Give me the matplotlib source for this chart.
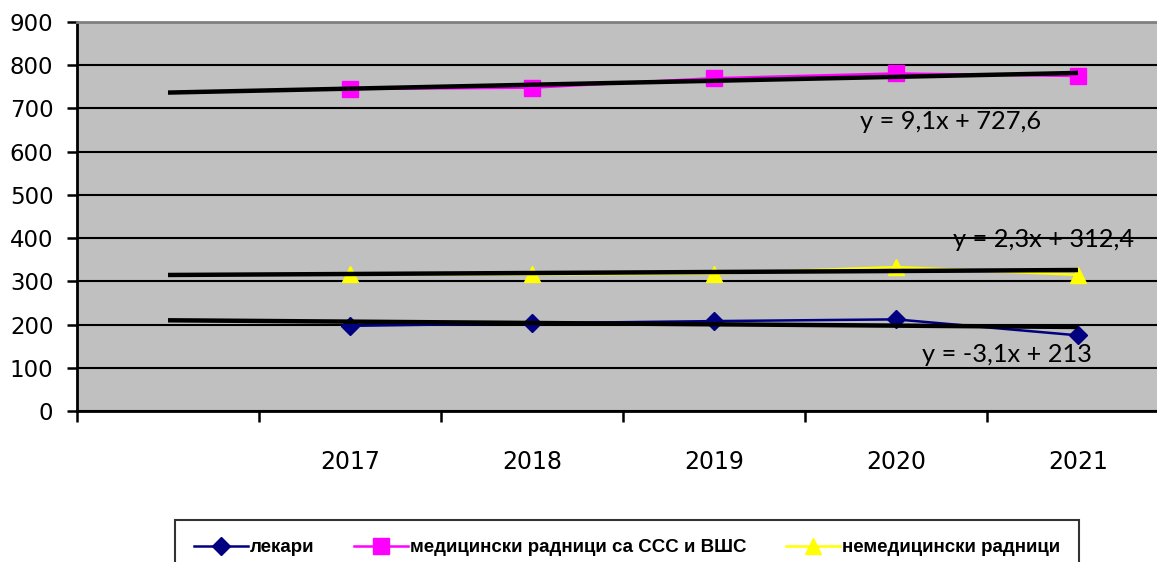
import matplotlib
matplotlib.use("Agg")
import matplotlib.pyplot as plt
import numpy as np
from matplotlib.ticker import FixedLocator, NullFormatter

# ---------------------------- data --------------------------------------------
years = ["", "2017", "2018", "2019", "2020", "2021"]
lekari = [np.nan, 197, 203, 208, 212, 175]
medicinski = [np.nan, 745, 748, 770, 781, 775]
nemedicinski = [np.nan, 316, 316, 318, 333, 315]
# trendlines (slope, intercept) as printed on the chart
trend_lekari = (-3.1, 213)
trend_medicinski = (9.1, 727.6)
trend_nemedicinski = (2.3, 312.4)
labels = ["лекари", "медицински радници са ССС и ВШС", "немедицински радници"]

# ------------------------------------------------------------------------------
W, H = 1157, 562
fig = plt.figure(figsize=(W / 100, H / 100), dpi=100)
ax = fig.add_axes([77 / W, (H - 411) / H, 1092 / W, 389 / H])
ax.set_facecolor("#C0C0C0")

x = np.arange(1, len(years) + 1)

l1, = ax.plot(x, lekari, color="#000080", lw=1.8, marker="D", markersize=9, zorder=3)
l2, = ax.plot(x, medicinski, color="#FF00FF", lw=1.8, marker="s", markersize=11, zorder=3)
l3, = ax.plot(x, nemedicinski, color="#FFFF00", lw=1.8, marker="^", markersize=12, zorder=3)

for m, b in [trend_lekari, trend_medicinski, trend_nemedicinski]:
    ax.plot(x, m * x + b, color="black", lw=3.2, solid_capstyle="butt", zorder=4)

eq_font = dict(fontsize=18.3, family=["Lato", "DejaVu Sans"], ha="center", va="center", zorder=5)
ax.text(5.30, 670, "y = 9,1x + 727,6", **eq_font)
ax.text(5.81, 396, "y = 2,3x + 312,4", **eq_font)
ax.text(5.61, 130, "y = -3,1x + 213", **eq_font)

ax.set_xlim(0.5, 6.5)
ax.set_ylim(0, 900)
ax.set_yticks(np.arange(0, 901, 100))
ax.yaxis.grid(True, color="black", lw=1.5)
ax.set_axisbelow(True)

ax.xaxis.set_major_locator(FixedLocator(np.arange(0.5, 6.0, 1.0)))
ax.xaxis.set_major_formatter(NullFormatter())
ax.xaxis.set_minor_locator(FixedLocator(x))
ax.set_xticklabels(years, minor=True)
ax.tick_params(axis="x", which="major", length=8, width=1.8, color="black")
ax.tick_params(axis="x", which="minor", length=0, pad=28, labelsize=17)
ax.tick_params(axis="y", length=7, width=1.8, pad=10, labelsize=16.5)

for s in ["left", "bottom"]:
    ax.spines[s].set_linewidth(2)
    ax.spines[s].set_color("black")
ax.spines["right"].set_visible(False)
ax.spines["top"].set_color("#808080")
ax.spines["top"].set_linewidth(2)

leg = fig.legend([l1, l2, l3], labels, loc="upper center",
                 bbox_to_anchor=(627 / W, (H - 511) / H), ncol=3,
                 frameon=True, fancybox=False, edgecolor="black",
                 handlelength=2.9, handletextpad=0.1, columnspacing=2.1,
                 borderpad=1.0,
                 prop={"family": ["Liberation Sans", "DejaVu Sans"], "weight": "bold", "size": 13.5})
leg.get_frame().set_linewidth(1.5)

fig.savefig("out.png", dpi=100)
